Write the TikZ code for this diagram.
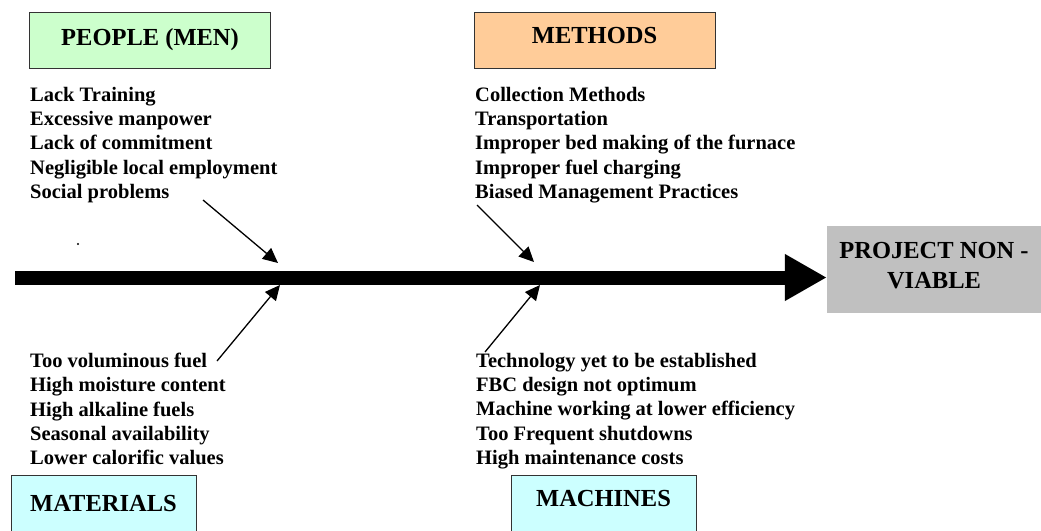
\documentclass[tikz,border=0pt]{standalone}
\usepackage{fontspec}
\setmainfont{Liberation Serif}
\usetikzlibrary{arrows.meta}
\definecolor{peoplegreen}{HTML}{CCFFCC}
\definecolor{methodorange}{HTML}{FFCC99}
\definecolor{matcyan}{HTML}{CCFFFF}
\definecolor{resultgray}{HTML}{C0C0C0}
\begin{document}
\begin{tikzpicture}[x=1pt, y=-1pt,
		catbox/.style={draw=black!80, line width=.8pt, minimum width=241pt, minimum height=56pt, inner sep=0pt, font=\fontsize{24.5}{29}\selectfont\bfseries},
		causes/.style={anchor=north west, inner sep=0pt, align=left, font=\fontsize{20.5}{24.2}\selectfont\bfseries},
		bone/.style={line width=1.3pt, -{Triangle[length=15pt, width=14pt]}}]
		\useasboundingbox(0, 0) rectangle (1041, 530);
		\node[catbox, fill=peoplegreen, text depth=7pt](people) at(150, 40){PEOPLE (MEN)};
		\node[catbox, fill=methodorange, text depth=10pt](methods) at(594.5, 40){METHODS};
		\node[catbox, fill=matcyan, minimum width=185pt, minimum height=65pt, anchor=north, text depth=9pt](materials) at(103.5, 475){MATERIALS};
		\node[catbox, fill=matcyan, minimum width=185pt, minimum height=65pt, anchor=north, text depth=19pt](machines) at(603.5, 475){MACHINES};
		\node[fill=resultgray, minimum width=214pt, minimum height=87pt, inner sep=0pt, align=center, font=\fontsize{24.5}{30}\selectfont\bfseries](project) at(934, 269.5){PROJECT NON -\\VIABLE\rule[-9pt]{0pt}{9pt}};
		\node[causes](peoplelist) at(30, 87){Lack Training\\Excessive manpower\\Lack of commitment\\Negligible local employment\\Social problems};
		\node[causes](methodlist) at(475, 87){Collection Methods\\Transportation\\Improper bed making of the furnace\\Improper fuel charging\\Biased Management Practices};
		\node[causes](materiallist) at(30, 353){Too voluminous fuel\\High moisture content\\High alkaline fuels\\Seasonal availability\\Lower calorific values};
		\node[causes](machinelist) at(476, 353){Technology yet to be established\\FBC design not optimum\\Machine working at lower efficiency\\Too Frequent shutdowns\\High maintenance costs};
		\coordinate(spinetail) at(15, 277.5);
		\draw[line width=14pt, -{Triangle[length=42pt, width=44pt]}](spinetail) -- (spinetail -| project.west);
		\coordinate(peopletail) at(203, 200);
		\coordinate(peoplehead) at(278, 263);
		\coordinate(methodtail) at(477, 205);
		\coordinate(methodhead) at(534, 262);
		\coordinate(materialtail) at(217, 361);
		\coordinate(materialhead) at(280, 285);
		\coordinate(machinetail) at(485, 352);
		\coordinate(machinehead) at(540, 285);
		\draw[bone](peopletail) -- (peoplehead);
		\draw[bone](methodtail) -- (methodhead);
		\draw[bone](materialtail) -- (materialhead);
		\draw[bone](machinetail) -- (machinehead);
		\fill(78, 244) circle (1.2);
	\end{tikzpicture}
\end{document}
